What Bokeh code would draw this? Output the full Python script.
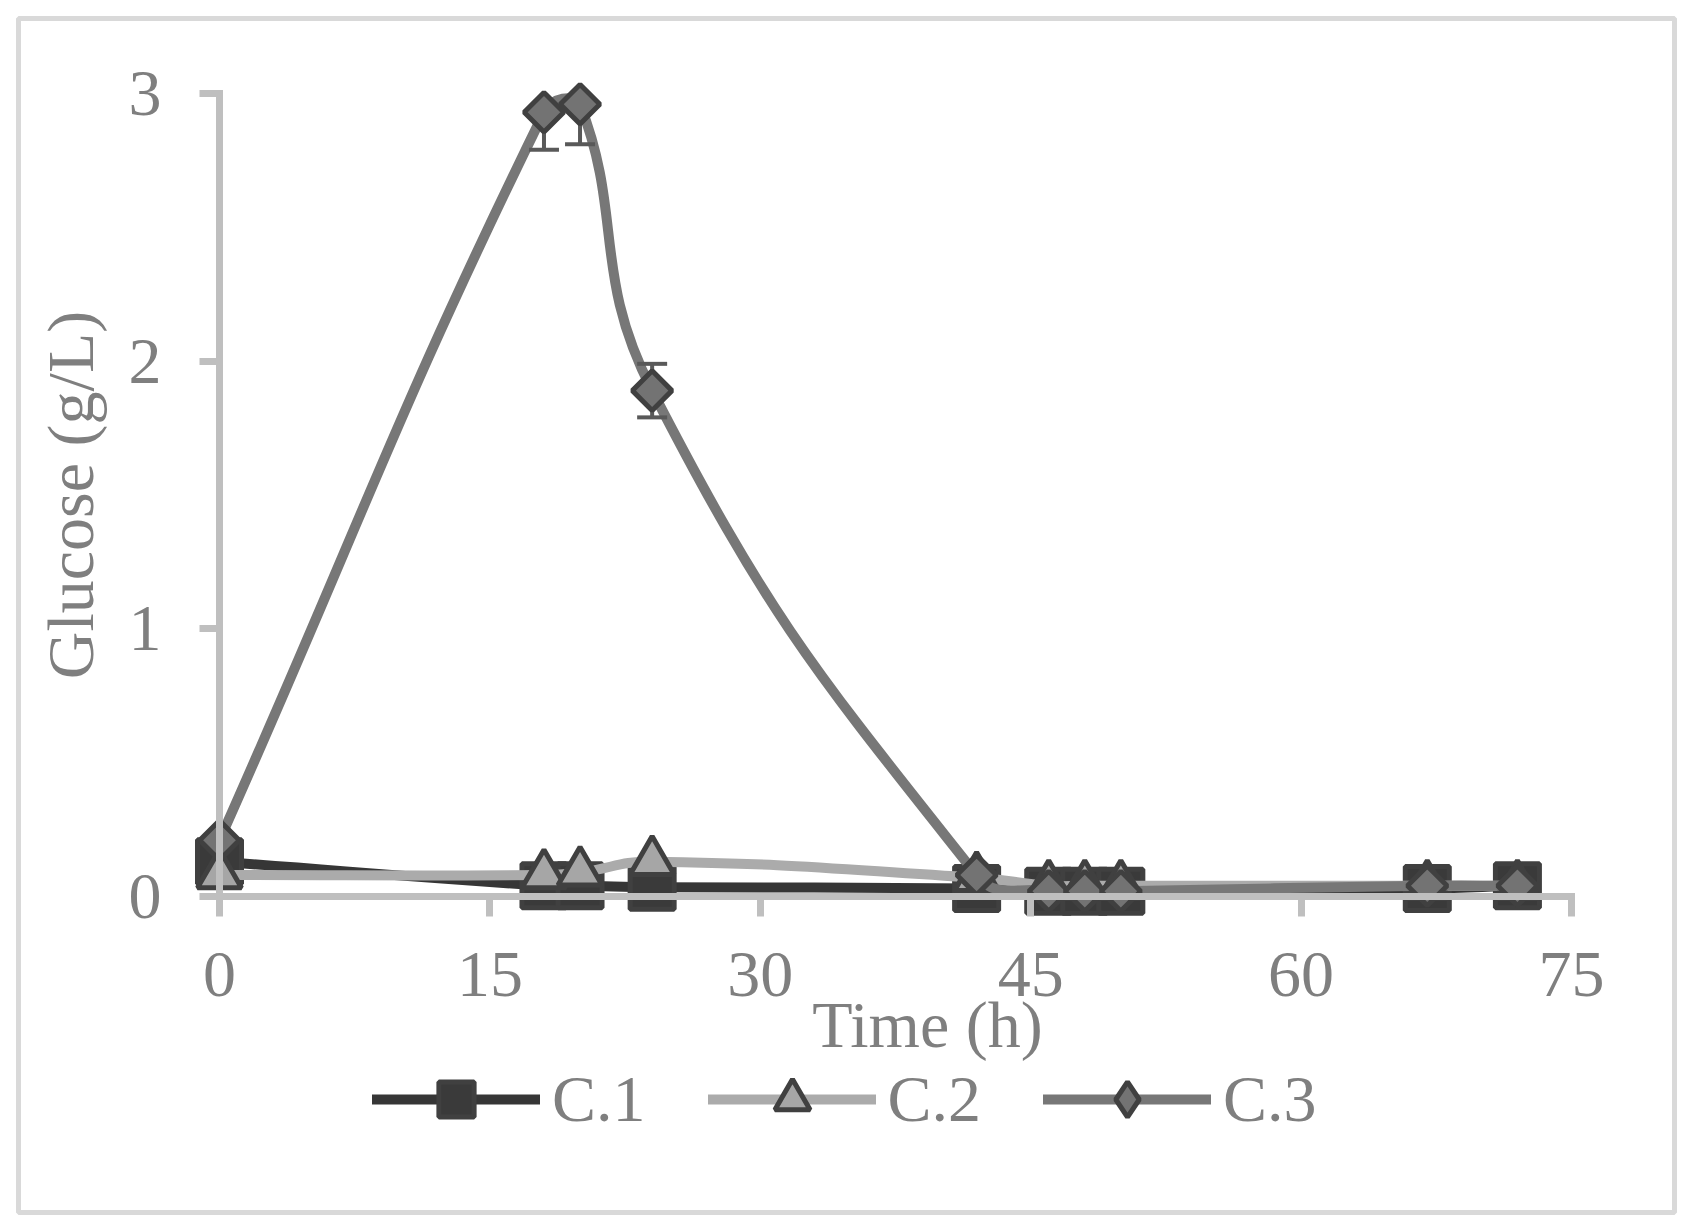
import numpy as np
from bokeh.plotting import figure
from bokeh.models import (Range1d, FixedTicker, Legend, LegendItem, Label,
                          ColumnDataSource)
from bokeh.embed import file_html
from bokeh.resources import INLINE

# ---------------- data ----------------
time_h = [0, 18, 20, 24, 42, 46, 48, 50, 67, 72]
c1 = [0.13, 0.04, 0.04, 0.035, 0.03, 0.02, 0.02, 0.02, 0.03, 0.04]
c2 = [0.08, 0.08, 0.09, 0.13, 0.07, 0.04, 0.04, 0.04, 0.04, 0.04]
c3 = [0.21, 2.93, 2.96, 1.89, 0.08, 0.02, 0.02, 0.02, 0.04, 0.04]
c3_err = [0.0, 0.14, 0.15, 0.10, 0.0, 0.0, 0.0, 0.0, 0.0, 0.0]
x_ticks = [0, 15, 30, 45, 60, 75]
y_ticks = [0, 1, 2, 3]
series_names = ["C.1", "C.2", "C.3"]
XMAX, YMAX = 75, 3

# ---------------- layout (pixels) ----------------
W, H = 1684, 1222
BOX_L, BOX_T, BOX_R, BOX_B = 18, 18, 1674, 1212      # bordered box = frame
AX_L, AX_R, AX_T, AX_B = 219, 1571, 93, 896           # where the axes lie
SX = (AX_R - AX_L) / XMAX                             # px per hour
SY = (AX_B - AX_T) / YMAX                             # px per g/L
x_lo, x_hi = -(AX_L - BOX_L) / SX, XMAX + (BOX_R - AX_R) / SX
y_lo, y_hi = -(BOX_B - AX_B) / SY, YMAX + (AX_T - BOX_T) / SY

FONT = "Liberation Serif"
TXT = "#7f7f7f"
AX = "#bfbfbf"
OUT = "#404040"

p = figure(width=W, height=H, output_backend="svg", toolbar_location=None,
           x_range=Range1d(x_lo, x_hi), y_range=Range1d(y_lo, y_hi),
           min_border_left=BOX_L, min_border_right=W - BOX_R,
           min_border_top=BOX_T, min_border_bottom=H - BOX_B)
p.background_fill_color = "white"
p.border_fill_color = "white"
p.outline_line_color = "#d9d9d9"
p.outline_line_width = 5
p.grid.visible = False

for ax, ticks, bnd in ((p.xaxis[0], x_ticks, (0, XMAX)),
                       (p.yaxis[0], y_ticks, (0, YMAX))):
    ax.fixed_location = 0
    ax.bounds = bnd
    ax.ticker = FixedTicker(ticks=ticks)
    ax.axis_line_color = AX
    ax.axis_line_width = 7
    ax.axis_line_cap = "square"
    ax.major_tick_line_color = AX
    ax.major_tick_line_width = 7
    ax.major_tick_out = 20
    ax.major_tick_in = 0
    ax.minor_tick_line_color = None
    ax.major_label_text_font = FONT
    ax.major_label_text_font_size = "66px"
    ax.major_label_text_color = TXT

p.xaxis.major_label_standoff = 36
p.yaxis.major_label_standoff = 38
p.yaxis.axis_label = "Glucose (g/L)"
p.yaxis.axis_label_text_font = FONT
p.yaxis.axis_label_text_font_size = "66px"
p.yaxis.axis_label_text_font_style = "normal"
p.yaxis.axis_label_text_color = TXT
p.yaxis.axis_label_standoff = 19


# ---------------- smoothed lines (Excel-like) ----------------
def smooth(xs, ys, f=0.45):
    P = np.column_stack([np.asarray(xs, float) * SX, np.asarray(ys, float) * SY])
    n = len(P)
    out = {k: [] for k in ("x0", "y0", "x1", "y1", "cx0", "cy0", "cx1", "cy1")}
    for i in range(n - 1):
        p0 = P[i - 1] if i > 0 else P[i]
        p1, p2 = P[i], P[i + 1]
        p3 = P[i + 2] if i + 2 < n else P[i + 1]
        d01, d12, d23 = (np.linalg.norm(p1 - p0), np.linalg.norm(p2 - p1),
                         np.linalg.norm(p3 - p2))
        a = f * d12 / (d01 + d12) if d01 + d12 > 0 else 0
        b = f * d12 / (d12 + d23) if d12 + d23 > 0 else 0
        c1_ = p1 + (p2 - p0) * a
        c2_ = p2 - (p3 - p1) * b
        out["x0"].append(p1[0] / SX); out["y0"].append(p1[1] / SY)
        out["x1"].append(p2[0] / SX); out["y1"].append(p2[1] / SY)
        out["cx0"].append(c1_[0] / SX); out["cy0"].append(min(c1_[1] / SY, YMAX))
        out["cx1"].append(c2_[0] / SX); out["cy1"].append(min(c2_[1] / SY, YMAX))
    return ColumnDataSource(out)


styles = [
    dict(y=c1, line="#363636", fill="#3a3a3a", marker="square", size=44, angle=0.0),
    dict(y=c2, line="#ababab", fill="#a6a6a6", marker="triangle", size=44, angle=0.0),
    dict(y=c3, line="#777777", fill="#737373", marker="square", size=28, angle=np.pi / 4),
]

items = []
for k, st in enumerate(styles):
    src = smooth(time_h, st["y"])
    lr = p.bezier(x0="x0", y0="y0", x1="x1", y1="y1", cx0="cx0", cy0="cy0",
                  cx1="cx1", cy1="cy1", source=src, line_color=st["line"],
                  line_width=10, line_cap="round")
    rs = [lr]
    if k == 2:
        ex = [t for t, e in zip(time_h, c3_err) if e > 0]
        lo = [v - e for v, e in zip(c3, c3_err) if e > 0]
        hi = [min(v + e, YMAX) for v, e in zip(c3, c3_err) if e > 0]
        p.segment(x0=ex, y0=lo, x1=ex, y1=hi, line_color="#595959", line_width=4)
        cap_x = ex + [t for t, h in zip(ex, hi) if h < YMAX]
        cap_y = lo + [h for h in hi if h < YMAX]
        p.scatter(x=cap_x, y=cap_y, marker="dash", size=30,
                  line_color="#595959", line_width=4)
        # diamond-shaped key for the legend (sits hidden under the rotated squares)
        key = p.scatter(x=time_h, y=c3, marker="diamond", size=24,
                        fill_color=st["fill"], line_color=OUT, line_width=5)
    sr = p.scatter(x=time_h, y=st["y"], marker=st["marker"], size=st["size"],
                   angle=st["angle"], fill_color=st["fill"], line_color=OUT,
                   line_width=5)
    rs.append(key if k == 2 else sr)
    items.append(LegendItem(label=series_names[k], renderers=rs))

# legend row centred at page y=1099, first sample starting at x=372
GH = 88
legend = Legend(items=items, orientation="horizontal",
                location=(372 - BOX_L, BOX_B - (1099 + GH / 2)),
                glyph_width=168, glyph_height=GH, label_height=GH,
                label_standoff=12, spacing=62, padding=0, margin=0,
                border_line_alpha=0, background_fill_alpha=0,
                label_text_font=FONT, label_text_font_size="66px",
                label_text_color=TXT)
p.add_layout(legend)

p.add_layout(Label(x=927 - BOX_L, y=BOX_B - 1024, x_units="screen", y_units="screen",
                   text="Time (h)", text_align="center",
                   text_baseline="alphabetic", text_font=FONT,
                   text_font_size="66px", text_color=TXT))

open("out.html", "w").write(file_html(p, INLINE))
